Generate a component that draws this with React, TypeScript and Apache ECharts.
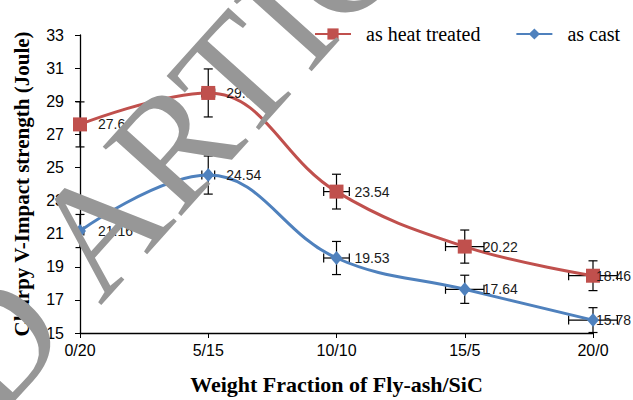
import React, { useEffect, useRef } from "react";
import * as echarts from "echarts";

const categories = ["0/20", "5/15", "10/10", "15/5", "20/0"];
const heatTreated = [27.6, 29.5, 23.54, 20.22, 18.46];
const asCast = [21.16, 24.54, 19.53, 17.64, 15.78];
const heatErrY = [1.36, 1.45, 1.05, 1.0, 0.9];
const castErrY = [1.0, 1.15, 1.0, 0.85, 0.75];
const errX = [0.03, 0.05, 0.1, 0.15, 0.19];

const RED = "#C0504D";
const BLUE = "#4F81BD";

function errorSeries(name: string, values: number[], ey: number[]) {
  return {
    name,
    type: "custom",
    z: 1,
    silent: true,
    data: values.map((v, i) => [i, v, ey[i], errX[i]]),
    encode: { x: 0, y: 1 },
    renderItem: (params: any, api: any) => {
      const i = api.value(0);
      const v = api.value(1);
      const e = api.value(2);
      const ex = api.value(3);
      const top = api.coord([i, v + e]);
      const bot = api.coord([i, v - e]);
      const c = api.coord([i, v]);
      const band = api.coord([1, v])[0] - api.coord([0, v])[0];
      const hx = band * ex;
      const cap = 4.5;
      const st = { stroke: "#000", lineWidth: 1.2 };
      const line = (x1: number, y1: number, x2: number, y2: number) => ({
        type: "line",
        shape: { x1, y1, x2, y2 },
        style: st,
      });
      return {
        type: "group",
        children: [
          line(top[0], top[1], bot[0], bot[1]),
          line(top[0] - cap, top[1], top[0] + cap, top[1]),
          line(bot[0] - cap, bot[1], bot[0] + cap, bot[1]),
          line(c[0] - hx, c[1], c[0] + hx, c[1]),
          line(c[0] - hx, c[1] - cap, c[0] - hx, c[1] + cap),
          line(c[0] + hx, c[1] - cap, c[0] + hx, c[1] + cap),
        ],
      };
    },
  };
}

function lineData(values: number[], lastDistance: number) {
  return values.map((v, i) =>
    i === values.length - 1 ? { value: v, label: { distance: lastDistance } } : v
  );
}

export default function App() {
  const ref = useRef<HTMLDivElement>(null);
  useEffect(() => {
    if (!ref.current) return;
    const chart = echarts.init(ref.current, null, { renderer: "svg" });
    const ang = (48 * Math.PI) / 180;
    const dir = [Math.cos(ang), -Math.sin(ang)];
    const P = [60, 270];
    const fs = 160;
    const sp = fs * 0.25;
    chart.setOption({
      animation: false,
      backgroundColor: "#fff",
      grid: { left: 80, right: 40, top: 35, bottom: 64 },
      legend: {
        data: ["as heat treated", "as cast"],
        left: 309,
        top: 19,
        itemWidth: 36,
        itemHeight: 14,
        itemGap: 35,
        textStyle: {
          fontFamily: "Liberation Serif",
          fontSize: 20,
          color: "#000",
          padding: [0, 0, 0, 10],
        },
      },
      xAxis: {
        type: "category",
        data: categories,
        boundaryGap: false,
        name: "Weight Fraction of Fly-ash/SiC",
        nameLocation: "middle",
        nameGap: 40,
        nameTextStyle: {
          fontFamily: "Liberation Serif",
          fontWeight: "bold",
          fontSize: 22,
          color: "#000",
        },
        axisLine: { lineStyle: { color: "#000", width: 1.3 } },
        axisTick: { show: true, length: 5, alignWithLabel: true, lineStyle: { color: "#000" } },
        axisLabel: { fontFamily: "Liberation Sans", fontSize: 16, color: "#000", margin: 9 },
      },
      yAxis: {
        type: "value",
        min: 15,
        max: 33,
        interval: 2,
        name: "Charpy V-Impact strength (Joule)",
        nameLocation: "middle",
        nameGap: 48,
        nameTextStyle: {
          fontFamily: "Liberation Serif",
          fontWeight: "bold",
          fontSize: 21,
          color: "#000",
        },
        axisLine: { show: true, lineStyle: { color: "#000", width: 1.3 } },
        axisTick: { show: true, length: 5, lineStyle: { color: "#000" } },
        splitLine: { show: false },
        axisLabel: { fontFamily: "Liberation Sans", fontSize: 16, color: "#000", margin: 16 },
      },
      series: [
        errorSeries("err-heat", heatTreated, heatErrY),
        errorSeries("err-cast", asCast, castErrY),
        {
          name: "as heat treated",
          type: "line",
          z: 3,
          data: lineData(heatTreated, -4),
          smooth: 0.4,
          symbol: "rect",
          symbolSize: 14,
          lineStyle: { color: RED, width: 3 },
          itemStyle: { color: RED },
          label: {
            show: true,
            position: "right",
            distance: 11,
            fontFamily: "Liberation Sans",
            fontSize: 14,
            color: "#1a1a1a",
          },
        },
        {
          name: "as cast",
          type: "line",
          z: 3,
          data: lineData(asCast, -3),
          smooth: 0.4,
          symbol: "diamond",
          symbolSize: [12, 14],
          lineStyle: { color: BLUE, width: 3 },
          itemStyle: { color: BLUE },
          label: {
            show: true,
            position: "right",
            distance: 12,
            fontFamily: "Liberation Sans",
            fontSize: 14,
            color: "#1a1a1a",
          },
        },
      ],
      graphic: [
        {
          type: "text",
          z: 100,
          silent: true,
          x: P[0],
          y: P[1],
          rotation: ang,
          style: {
            text: "ARTICLE",
            fontFamily: "Liberation Serif",
            fontSize: fs,
            fill: "#979797",
            textAlign: "left",
            textVerticalAlign: "middle",
          },
        },
        {
          type: "text",
          z: 100,
          silent: true,
          x: P[0] - sp * dir[0],
          y: P[1] - sp * dir[1],
          rotation: ang,
          style: {
            text: "ACCEPTED",
            fontFamily: "Liberation Serif",
            fontSize: fs,
            fill: "#979797",
            textAlign: "right",
            textVerticalAlign: "middle",
          },
        },
      ],
    });
    return () => chart.dispose();
  }, []);
  return (
    <div
      ref={ref}
      style={{ position: "fixed", left: 0, top: 0, width: 633, height: 400 }}
    />
  );
}
